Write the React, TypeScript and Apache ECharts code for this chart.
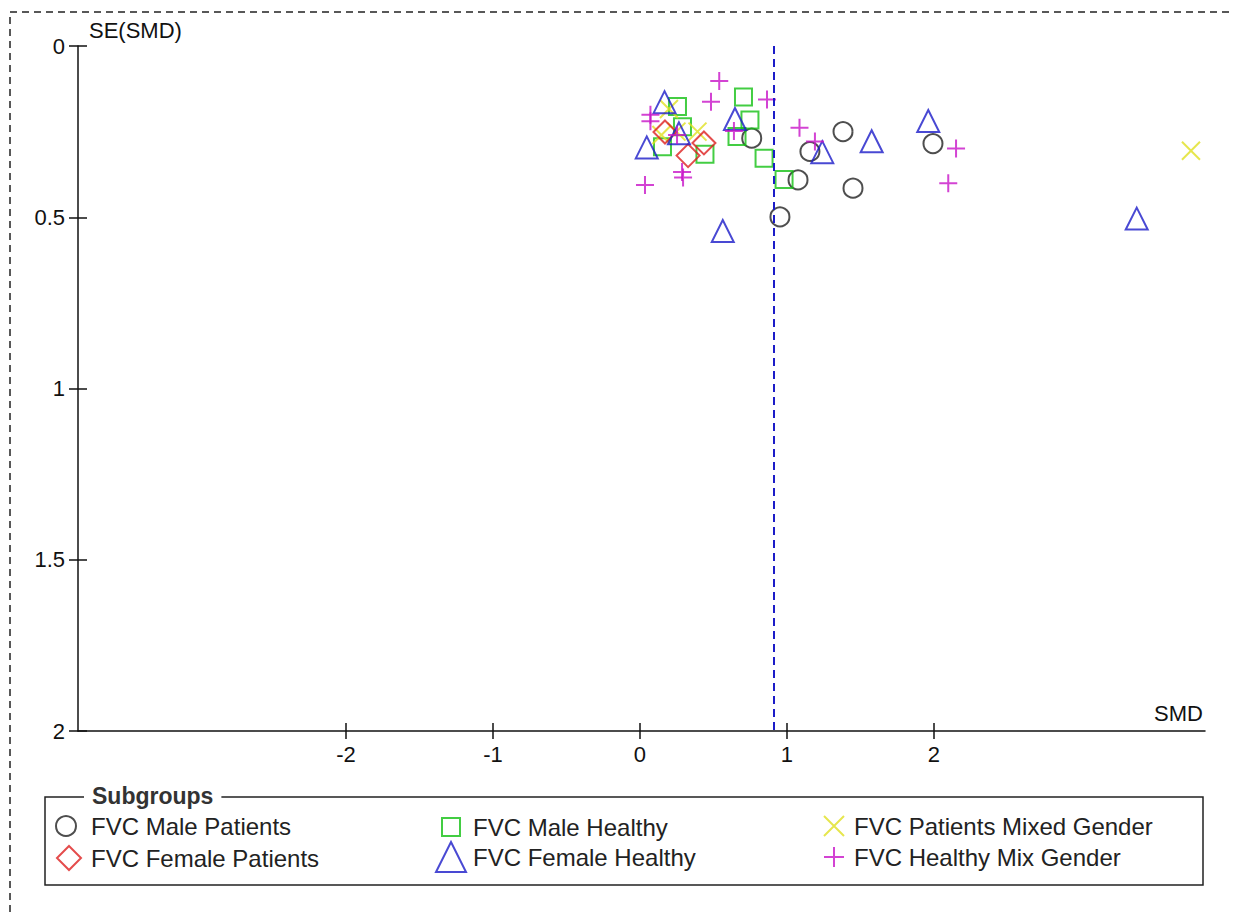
import React, { useEffect, useRef } from "react";
import * as echarts from "echarts";

// SMD (x) and SE(SMD) (y) per subgroup
const malePatientsX = [0.76, 0.952, 1.075, 1.156, 1.381, 1.449, 1.993];
const malePatientsY = [0.269, 0.499, 0.391, 0.308, 0.25, 0.415, 0.285];
const maleHealthyX = [0.704, 0.748, 0.66, 0.844, 0.98, 0.255, 0.289, 0.153, 0.442];
const maleHealthyY = [0.149, 0.216, 0.264, 0.328, 0.39, 0.177, 0.236, 0.294, 0.316];
const femalePatientsX = [0.17, 0.327, 0.435];
const femalePatientsY = [0.251, 0.32, 0.283];
const patientsMixedX = [0.197, 0.146, 0.248, 0.391, 3.748];
const patientsMixedY = [0.184, 0.26, 0.25, 0.25, 0.306];
const femaleHealthyX = [0.167, 0.046, 0.265, 0.646, 0.563, 1.24, 1.576, 1.961, 3.379];
const femaleHealthyY = [0.164, 0.296, 0.255, 0.213, 0.54, 0.31, 0.278, 0.219, 0.504];
const healthyMixX = [0.539, 0.483, 0.864, 0.071, 0.071, 0.252, 0.286, 0.293, 0.034, 0.639, 1.085, 1.19, 2.15, 2.097];
const healthyMixY = [0.102, 0.163, 0.156, 0.201, 0.22, 0.26, 0.368, 0.384, 0.406, 0.248, 0.239, 0.279, 0.299, 0.401];

const pooledSMD = 0.91;
const xTicks = [-2, -1, 0, 1, 2];
const xMin = -3.823;
const xMax = 3.8435;

const FONT = "'Liberation Sans', Arial, sans-serif";
const X_PATH = "path://M0,0L10,10M10,0L0,10";
const PLUS_PATH = "path://M5,0L5,10M0,5L10,5";
const AXIS_COLOR = "#111";

const groups = [
  { name: "FVC Male Patients", xs: malePatientsX, ys: malePatientsY, color: "#222222", symbol: "circle", size: 19, legend: { left: 55, top: 814, s: 20, pad: 10 } },
  { name: "FVC Male Healthy", xs: maleHealthyX, ys: maleHealthyY, color: "#14c014", symbol: "rect", size: 17, legend: { left: 441, top: 815, s: 18, pad: 8 } },
  { name: "FVC Patients Mixed Gender", xs: patientsMixedX, ys: patientsMixedY, color: "#e0e020", symbol: X_PATH, size: 18, legend: { left: 823, top: 814, s: 20, pad: 5 } },
  { name: "FVC Female Patients", xs: femalePatientsX, ys: femalePatientsY, color: "#dd1f1f", symbol: "diamond", size: 23, legend: { left: 56, top: 845, s: 24, pad: 5 } },
  { name: "FVC Female Healthy", xs: femaleHealthyX, ys: femaleHealthyY, color: "#1c1cc8", symbol: "triangle", size: 22, legend: { left: 435, top: 841, s: 30, pad: 2 } },
  { name: "FVC Healthy Mix Gender", xs: healthyMixX, ys: healthyMixY, color: "#c814c8", symbol: PLUS_PATH, size: 18, legend: { left: 823, top: 845, s: 20, pad: 5 } },
];

export default function App() {
  const ref = useRef<HTMLDivElement>(null);
  useEffect(() => {
    document.body.style.margin = "0";
    const chart = echarts.init(ref.current!, null, { renderer: "svg" });
    const series: any[] = groups.map((g, i) => ({
      name: g.name,
      type: "scatter",
      xAxisIndex: 0,
      yAxisIndex: 0,
      symbol: g.symbol,
      symbolSize: g.size,
      data: g.xs.map((x, k) => [x, g.ys[k]]),
      itemStyle: { color: "transparent", borderColor: g.color, borderWidth: 2 },
      emphasis: { disabled: true },
      z: 3,
      markLine:
        i === 0
          ? {
              silent: true,
              symbol: "none",
              label: { show: false },
              lineStyle: { color: "#1c1cc8", type: [8, 5], width: 2 },
              data: [{ xAxis: pooledSMD }],
            }
          : undefined,
    }));
    const legends = groups.map((g) => ({
      data: [g.name],
      left: g.legend.left,
      top: g.legend.top,
      itemWidth: g.legend.s,
      itemHeight: g.legend.s,
      padding: 0,
      selectedMode: false,
      icon: g.symbol,
      itemStyle: { color: "transparent", borderColor: g.color, borderWidth: 2 },
      textStyle: { fontFamily: FONT, fontSize: 24, color: "#222", padding: [0, 0, 0, g.legend.pad] },
    }));
    const tickStyle = { color: AXIS_COLOR, width: 1.5 };
    chart.setOption({
      animation: false,
      backgroundColor: "#fff",
      grid: { left: 78, right: 29, top: 46, bottom: 184, containLabel: false },
      xAxis: [
        {
          type: "value",
          position: "bottom",
          min: xMin,
          max: xMax,
          splitLine: { show: false },
          axisLine: { onZero: false, lineStyle: { color: AXIS_COLOR, width: 1.5 } },
          axisTick: { show: true, length: 8, customValues: xTicks, lineStyle: tickStyle },
          axisLabel: { customValues: xTicks, margin: 12, fontFamily: FONT, fontSize: 22, color: AXIS_COLOR },
        },
        {
          type: "value",
          position: "bottom",
          offset: 0,
          min: xMin,
          max: xMax,
          splitLine: { show: false },
          axisLine: { show: false, onZero: false },
          axisTick: { show: true, inside: true, length: 8, customValues: xTicks, lineStyle: tickStyle },
          axisLabel: { show: false },
        },
      ],
      yAxis: [
        {
          type: "value",
          position: "left",
          inverse: true,
          min: 0,
          max: 2,
          interval: 0.5,
          splitLine: { show: false },
          axisLine: { show: true, onZero: false, lineStyle: { color: AXIS_COLOR, width: 1.5 } },
          axisTick: { show: true, length: 9, lineStyle: tickStyle },
          axisLabel: { margin: 13, fontFamily: FONT, fontSize: 22, color: AXIS_COLOR },
        },
        {
          type: "value",
          position: "left",
          offset: 0,
          inverse: true,
          min: 0,
          max: 2,
          interval: 0.5,
          splitLine: { show: false },
          axisLine: { show: false, onZero: false },
          axisTick: { show: true, inside: true, length: 9, lineStyle: tickStyle },
          axisLabel: { show: false },
        },
      ],
      legend: legends,
      series,
      graphic: [
        {
          type: "rect",
          shape: { x: 10, y: 12, width: 1240, height: 920 },
          style: { fill: "none", stroke: "#222", lineWidth: 1.5, lineDash: [7, 5] },
          silent: true,
          z: 0,
        },
        {
          type: "rect",
          shape: { x: 45, y: 797, width: 1158, height: 88 },
          style: { fill: "none", stroke: "#222", lineWidth: 1.5 },
          silent: true,
          z: 1,
        },
        {
          type: "text",
          left: 84,
          top: 784,
          style: {
            text: "Subgroups",
            fontFamily: FONT,
            fontSize: 23,
            fontWeight: "bold",
            fill: "#333",
            backgroundColor: "#fff",
            padding: [0, 8],
          },
          z: 2,
        },
        {
          type: "text",
          left: 89,
          top: 19,
          style: { text: "SE(SMD)", fontFamily: FONT, fontSize: 22, fill: AXIS_COLOR },
          z: 2,
        },
        {
          type: "text",
          right: 31,
          top: 702,
          style: { text: "SMD", fontFamily: FONT, fontSize: 22, fill: AXIS_COLOR },
          z: 2,
        },
      ],
    });
    return () => chart.dispose();
  }, []);
  return <div ref={ref} style={{ width: 1234, height: 915 }} />;
}
